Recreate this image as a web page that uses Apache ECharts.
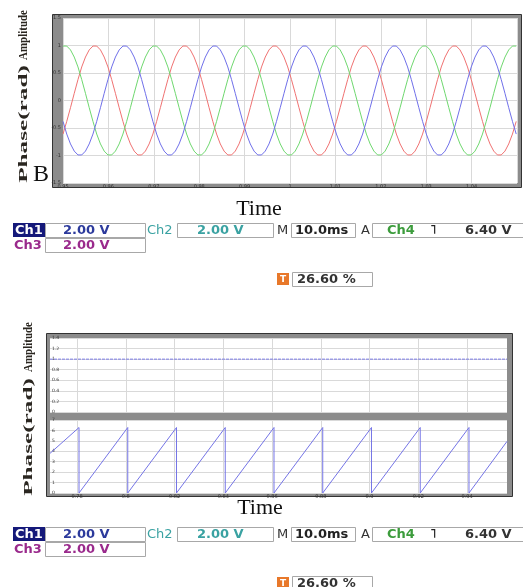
<!DOCTYPE html>
<html><head><meta charset="utf-8">
<script src="https://cdn.jsdelivr.net/npm/echarts@6/dist/echarts.min.js"></script>
<style>html,body{margin:0;padding:0;background:#fff}#c{width:523px;height:587px}</style>
</head><body><div id="c"></div>
<script>
// ---------- top chart: three-phase voltages (sampled) ----------
const topTimeStart = 0.95;
const topTimeStep = 0.000825;
const redPhase = [
-0.61,-0.38,-0.13,0.13,0.38,0.61,0.79,0.92,0.99,0.99,0.92,0.79,0.61,0.38,0.13,-0.13,-0.38,-0.61,-0.79,-0.92,-0.99,-0.99,-0.92,-0.79,
-0.61,-0.38,-0.13,0.13,0.38,0.61,0.79,0.92,0.99,0.99,0.92,0.79,0.61,0.38,0.13,-0.13,-0.38,-0.61,-0.79,-0.92,-0.99,-0.99,-0.92,-0.79,
-0.61,-0.38,-0.13,0.13,0.38,0.61,0.79,0.92,0.99,0.99,0.92,0.79,0.61,0.38,0.13,-0.13,-0.38,-0.61,-0.79,-0.92,-0.99,-0.99,-0.92,-0.79,
-0.61,-0.38,-0.13,0.13,0.38,0.61,0.79,0.92,0.99,0.99,0.92,0.79,0.61,0.38,0.13,-0.13,-0.38,-0.61,-0.79,-0.92,-0.99,-0.99,-0.92,-0.79,
-0.61,-0.38,-0.13,0.13,0.38,0.61,0.79,0.92,0.99,0.99,0.92,0.79,0.61,0.38,0.13,-0.13,-0.38,-0.61,-0.79,-0.92,-0.99,-0.99,-0.92,-0.79,
-0.61,-0.38];
const greenPhase = [
0.99,0.99,0.92,0.79,0.61,0.38,0.13,-0.13,-0.38,-0.61,-0.79,-0.92,-0.99,-0.99,-0.92,-0.79,-0.61,-0.38,-0.13,0.13,0.38,0.61,0.79,0.92,
0.99,0.99,0.92,0.79,0.61,0.38,0.13,-0.13,-0.38,-0.61,-0.79,-0.92,-0.99,-0.99,-0.92,-0.79,-0.61,-0.38,-0.13,0.13,0.38,0.61,0.79,0.92,
0.99,0.99,0.92,0.79,0.61,0.38,0.13,-0.13,-0.38,-0.61,-0.79,-0.92,-0.99,-0.99,-0.92,-0.79,-0.61,-0.38,-0.13,0.13,0.38,0.61,0.79,0.92,
0.99,0.99,0.92,0.79,0.61,0.38,0.13,-0.13,-0.38,-0.61,-0.79,-0.92,-0.99,-0.99,-0.92,-0.79,-0.61,-0.38,-0.13,0.13,0.38,0.61,0.79,0.92,
0.99,0.99,0.92,0.79,0.61,0.38,0.13,-0.13,-0.38,-0.61,-0.79,-0.92,-0.99,-0.99,-0.92,-0.79,-0.61,-0.38,-0.13,0.13,0.38,0.61,0.79,0.92,
0.99,0.99];
const bluePhase = [
-0.38,-0.61,-0.79,-0.92,-0.99,-0.99,-0.92,-0.79,-0.61,-0.38,-0.13,0.13,0.38,0.61,0.79,0.92,0.99,0.99,0.92,0.79,0.61,0.38,0.13,-0.13,
-0.38,-0.61,-0.79,-0.92,-0.99,-0.99,-0.92,-0.79,-0.61,-0.38,-0.13,0.13,0.38,0.61,0.79,0.92,0.99,0.99,0.92,0.79,0.61,0.38,0.13,-0.13,
-0.38,-0.61,-0.79,-0.92,-0.99,-0.99,-0.92,-0.79,-0.61,-0.38,-0.13,0.13,0.38,0.61,0.79,0.92,0.99,0.99,0.92,0.79,0.61,0.38,0.13,-0.13,
-0.38,-0.61,-0.79,-0.92,-0.99,-0.99,-0.92,-0.79,-0.61,-0.38,-0.13,0.13,0.38,0.61,0.79,0.92,0.99,0.99,0.92,0.79,0.61,0.38,0.13,-0.13,
-0.38,-0.61,-0.79,-0.92,-0.99,-0.99,-0.92,-0.79,-0.61,-0.38,-0.13,0.13,0.38,0.61,0.79,0.92,0.99,0.99,0.92,0.79,0.61,0.38,0.13,-0.13,
-0.38,-0.61];
const topXMin = 0.95, topXMax = 1.05, topXInterval = 0.01;
const topYMin = -1.5, topYMax = 1.5, topYInterval = 0.5;

// ---------- bottom chart: amplitude and phase ----------
const ampTimes = [0.7689, 0.9564];
const ampValues = [1, 1];
const sawStart = [0.7689, 3.8];
const sawResetTimes = [0.7808, 0.8008, 0.8208, 0.8408, 0.8608, 0.8808, 0.9008, 0.9208, 0.9408];
const sawPeak = 6.28;
const sawEnd = [0.9564, 4.95];
const botXMin = 0.7689, botXMax = 0.9564;
const botXTicks = [0.78, 0.80, 0.82, 0.84, 0.86, 0.88, 0.90, 0.92, 0.94];

// ---------- scope status text ----------
const ch1Label = 'Ch1', ch2Label = 'Ch2', ch3Label = 'Ch3', ch4Label = 'Ch4';
const ch1Scale = '2.00 V', ch2Scale = '2.00 V', ch3Scale = '2.00 V';
const timeBase = '10.0ms', trigLevel = '6.40 V', trigPos = '26.60 %';

const toPairs = vals => vals.map((v, i) => [+(topTimeStart + i * topTimeStep).toFixed(6), v]);
const sawData = [sawStart];
sawResetTimes.forEach(t => { sawData.push([t, sawPeak]); sawData.push([t, 0]); });
sawData.push(sawEnd);
const ampData = ampTimes.map((t, i) => [t, ampValues[i]]);

const SERIF = '"Liberation Serif","DejaVu Serif",serif';
const SANS = '"DejaVu Sans","Liberation Sans",sans-serif';
const gridLine = {show: true, lineStyle: {color: '#d9d9d9', width: 1}};

function statusBar(y0) {
  const el = [];
  const box = (x, y, w, h) => el.push({type: 'rect', shape: {x, y, width: w, height: h},
    style: {fill: '#fff', stroke: '#a8a8a8', lineWidth: 1}});
  const txt = (x, y, text, color, bold, size) => el.push({type: 'text', x, y,
    style: {text, fill: color, font: (bold ? 'bold ' : '') + (size || 13) + 'px ' + SANS,
      align: 'left', verticalAlign: 'middle', textAlign: 'left', textVerticalAlign: 'middle'}});
  // row 1
  el.push({type: 'rect', shape: {x: 13, y: y0, width: 32, height: 14}, style: {fill: '#15197a'}});
  txt(15, y0 + 7.5, ch1Label, '#ffffff', true);
  box(45.5, y0 + 0.5, 100, 14); txt(63, y0 + 7.5, ch1Scale, '#2c3a9c', true);
  txt(147, y0 + 7.5, ch2Label, '#3aa2a2', false);
  box(177.5, y0 + 0.5, 96, 14); txt(197, y0 + 7.5, ch2Scale, '#3aa2a2', true);
  txt(277, y0 + 7.5, 'M', '#333', false);
  box(291.5, y0 + 0.5, 64, 14); txt(295, y0 + 7.5, timeBase, '#222', true);
  txt(361, y0 + 7.5, 'A', '#333', false);
  box(372.5, y0 + 0.5, 151, 14); txt(387, y0 + 7.5, ch4Label, '#3c9c3c', true);
  txt(430, y0 + 7.5, '˥', '#222', true); txt(465, y0 + 7.5, trigLevel, '#333', true);
  // row 2
  txt(14, y0 + 22.5, ch3Label, '#9a2a8c', true);
  box(45.5, y0 + 15.5, 100, 14); txt(63, y0 + 22.5, ch3Scale, '#9a2a8c', true);
  // row 3
  el.push({type: 'rect', shape: {x: 277, y: y0 + 50, width: 12, height: 12}, style: {fill: '#e8782a'}});
  txt(280, y0 + 56.5, 'T', '#fff', true, 9);
  box(292.5, y0 + 49.5, 80, 14); txt(297, y0 + 56.5, trigPos, '#333', true);
  return el;
}

function vLabel(x, yA, yP, sA, sP) {
  return [
    {type: 'text', x, y: yA, rotation: Math.PI / 2, scaleX: sA, scaleY: 1,
      style: {text: 'Amplitude', font: 'bold 13px ' + SERIF, fill: '#2a2620', align: 'center', verticalAlign: 'middle', textAlign: 'center', textVerticalAlign: 'middle'}},
    {type: 'text', x, y: yP, rotation: Math.PI / 2, scaleX: sP, scaleY: 1,
      style: {text: 'Phase(rad)', font: 'bold 13px ' + SERIF, fill: '#2a2620', align: 'center', verticalAlign: 'middle', textAlign: 'center', textVerticalAlign: 'middle'}}
  ];
}

const graphics = [
  {type: 'rect', z: -5, shape: {x: 52.5, y: 14.5, width: 469, height: 173}, style: {fill: '#8c8c8c', stroke: '#333', lineWidth: 1}},
  {type: 'rect', z: -5, shape: {x: 46.5, y: 333.5, width: 466, height: 163}, style: {fill: '#8c8c8c', stroke: '#333', lineWidth: 1}},
  ...vLabel(24, 35, 124, 0.84, 1.94),
  ...vLabel(29, 347, 437, 0.84, 1.94),
  {type: 'text', x: 33, y: 187, style: {text: 'B', font: '24px ' + SERIF, fill: '#111', align: 'left', verticalAlign: 'bottom', textAlign: 'left', textVerticalAlign: 'bottom'}},
  {type: 'text', x: 259, y: 209, style: {text: 'Time', font: '22px ' + SERIF, fill: '#111', align: 'center', verticalAlign: 'middle', textAlign: 'center', textVerticalAlign: 'middle'}},
  {type: 'text', x: 260, y: 508, style: {text: 'Time', font: '22px ' + SERIF, fill: '#111', align: 'center', verticalAlign: 'middle', textAlign: 'center', textVerticalAlign: 'middle'}},
  ...statusBar(223),
  ...statusBar(527)
];

const smallLabel = (extra) => Object.assign({fontSize: 5, color: '#333', fontFamily: SANS}, extra || {});

const option = {
  animation: false,
  backgroundColor: '#fff',
  grid: [
    {left: 63, top: 18, width: 454, height: 165, show: true, backgroundColor: '#fff', borderWidth: 0},
    {left: 50, top: 338, width: 457, height: 74, show: true, backgroundColor: '#fff', borderWidth: 0},
    {left: 50, top: 420, width: 457, height: 73, show: true, backgroundColor: '#fff', borderWidth: 0}
  ],
  xAxis: [
    {gridIndex: 0, type: 'value', min: topXMin, max: topXMax, interval: topXInterval,
      axisLine: {show: false}, axisTick: {show: false}, splitLine: gridLine,
      axisLabel: smallLabel({margin: 1, showMaxLabel: false})},
    {gridIndex: 1, type: 'value', min: botXMin, max: botXMax,
      axisLine: {show: false}, axisTick: {show: false, customValues: botXTicks}, splitLine: gridLine,
      axisLabel: {show: false, customValues: botXTicks}},
    {gridIndex: 2, type: 'value', min: botXMin, max: botXMax,
      axisLine: {show: false}, axisTick: {show: false, customValues: botXTicks}, splitLine: gridLine,
      axisLabel: smallLabel({margin: 1, customValues: botXTicks})}
  ],
  yAxis: [
    {gridIndex: 0, type: 'value', min: topYMin, max: topYMax, interval: topYInterval,
      axisLine: {show: false}, axisTick: {show: false}, splitLine: gridLine,
      axisLabel: smallLabel({margin: 2})},
    {gridIndex: 1, type: 'value', min: 0, max: 1.4, interval: 0.2,
      axisLine: {show: false}, axisTick: {show: false}, splitLine: gridLine,
      axisLabel: smallLabel({inside: true, margin: 2, fontSize: 4.5})},
    {gridIndex: 2, type: 'value', min: 0, max: 7, interval: 1,
      axisLine: {show: false}, axisTick: {show: false}, splitLine: gridLine,
      axisLabel: smallLabel({inside: true, margin: 2, fontSize: 4.5})}
  ],
  series: [
    {name: 'Phase A', type: 'line', xAxisIndex: 0, yAxisIndex: 0, data: toPairs(redPhase), showSymbol: false, symbol: 'none',
      lineStyle: {color: '#f07272', width: 1}},
    {name: 'Phase B', type: 'line', xAxisIndex: 0, yAxisIndex: 0, data: toPairs(greenPhase), showSymbol: false, symbol: 'none',
      lineStyle: {color: '#6fd86f', width: 1}},
    {name: 'Phase C', type: 'line', xAxisIndex: 0, yAxisIndex: 0, data: toPairs(bluePhase), showSymbol: false, symbol: 'none',
      lineStyle: {color: '#7070ea', width: 1}},
    {name: 'Amplitude', type: 'line', xAxisIndex: 1, yAxisIndex: 1, data: ampData, showSymbol: false, symbol: 'none',
      lineStyle: {color: '#7c7ce6', width: 1, type: [3, 1]}},
    {name: 'Phase', type: 'line', xAxisIndex: 2, yAxisIndex: 2, data: sawData, showSymbol: false, symbol: 'none',
      lineStyle: {color: '#7474e6', width: 1}}
  ],
  graphic: graphics
};

const chart = echarts.init(document.getElementById('c'), null, {renderer: 'canvas'});
chart.setOption(option);
</script>
</body></html>
